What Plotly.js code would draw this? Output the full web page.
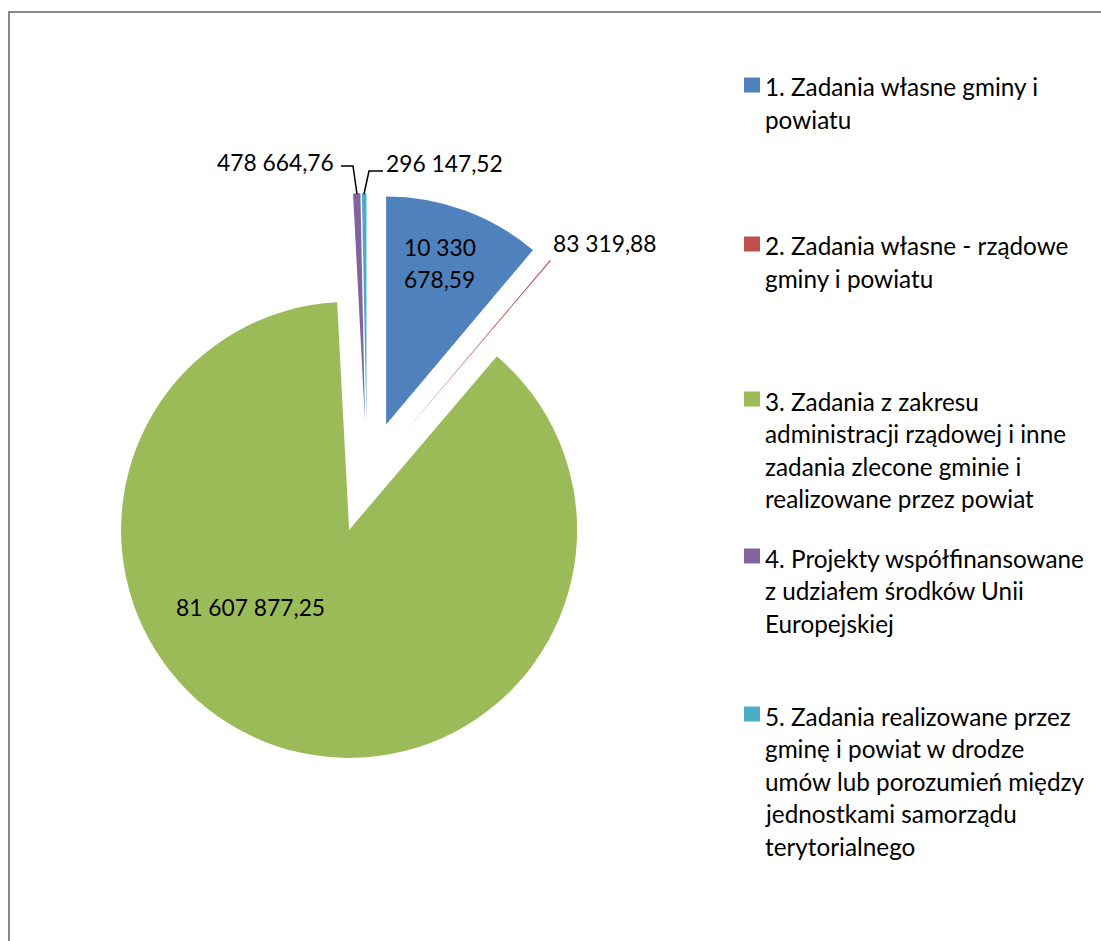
<!DOCTYPE html>
<html><head><meta charset="utf-8">
<script src="https://cdn.plot.ly/plotly-3.0.1.min.js"></script>
<style>html,body{margin:0;padding:0;background:#fff}#chart{width:1101px;height:941px}</style>
</head><body><div id="chart"></div>
<script>
// ---- data ----
const categories = [
  "1. Zadania własne gminy i powiatu",
  "2. Zadania własne - rządowe gminy i powiatu",
  "3. Zadania z zakresu administracji rządowej i inne zadania zlecone gminie i realizowane przez powiat",
  "4. Projekty współfinansowane z udziałem środków Unii Europejskiej",
  "5. Zadania realizowane przez gminę i powiat w drodze umów lub porozumień między jednostkami samorządu terytorialnego"
];
const legendLines = [
  ["1. Zadania własne gminy i", "powiatu"],
  ["2. Zadania własne - rządowe", "gminy i powiatu"],
  ["3. Zadania z zakresu", "administracji rządowej i inne", "zadania zlecone gminie i", "realizowane przez powiat"],
  ["4. Projekty współfinansowane", "z udziałem środków Unii", "Europejskiej"],
  ["5. Zadania realizowane przez", "gminę i powiat w drodze", "umów lub porozumień między", "jednostkami samorządu", "terytorialnego"]
];
const values = [10330678.59, 83319.88, 81607877.25, 478664.76, 296147.52];
const colors = ["#4F81BD", "#C0504D", "#9BBB59", "#8064A2", "#4BACC6"];

// ---- layout helpers ----
const W = 1101, H = 941;
const px = x => x / W, py = y => 1 - y / H;
const FAMILY = "Lato, 'Open Sans', sans-serif";
const VFONT = {family: FAMILY, size: 22.8, color: "#000"};
const LFONT = {family: FAMILY, size: 24.3, color: "#000"};

function fmtPL(v) {
  const s = v.toFixed(2).split(".");
  return s[0].replace(/\B(?=(\d{3})+(?!\d))/g, " ") + "," + s[1];
}

// pie geometry (pixels)
const cx = 367, cy = 477, R = 228, PULL = 0.245;
const side = 2 * R * (1 + PULL);

const trace = {
  type: "pie",
  labels: categories,
  values: values,
  sort: false,
  direction: "clockwise",
  rotation: 0,
  pull: values.map(() => PULL),
  marker: {colors: colors, line: {width: 0}},
  textinfo: "none",
  hoverinfo: "skip",
  showlegend: false,
  domain: {x: [px(cx - side / 2), px(cx + side / 2)], y: [py(cy + side / 2), py(cy - side / 2)]}
};

// value label placement
const labelPos = [
  {x: 402, y: 247, xa: "left", wrap: true},
  {x: 551, y: 243, xa: "left"},
  {x: 174, y: 607, xa: "left"},
  {x: 336, y: 162, xa: "right"},
  {x: 384, y: 163, xa: "left"}
];
const LINE = 32.5;
const annotations = [];
values.forEach((v, i) => {
  const t = fmtPL(v);
  const p = labelPos[i];
  let lines = [t];
  if (p.wrap) { const k = t.lastIndexOf(" "); lines = [t.slice(0, k), t.slice(k + 1)]; }
  lines.forEach((ln, j) => annotations.push({
    xref: "paper", yref: "paper", x: px(p.x), y: py(p.y + j * LINE),
    xanchor: p.xa, yanchor: "middle", text: ln, showarrow: false, font: VFONT
  }));
});

// legend (drawn manually to follow the wrapped layout)
const legendTop = [87, 246, 401, 558, 716];
const legX = 763;
const shapes = [];
legendLines.forEach((lines, i) => {
  lines.forEach((ln, j) => annotations.push({
    xref: "paper", yref: "paper", x: px(legX), y: py(legendTop[i] + j * LINE),
    xanchor: "left", yanchor: "middle", text: ln, showarrow: false, font: LFONT
  }));
  const sy = legendTop[i] - 2;
  shapes.push({type: "rect", xref: "paper", yref: "paper",
    x0: px(744), x1: px(760), y0: py(sy - 7.5), y1: py(sy + 7.5),
    fillcolor: colors[i], line: {width: 0}});
});

// leader lines for small slices
shapes.push({type: "path", xref: "paper", yref: "paper",
  path: `M ${px(341)} ${py(166)} L ${px(353)} ${py(166)} L ${px(357)} ${py(194)}`,
  line: {color: "#000", width: 1.5}});
shapes.push({type: "path", xref: "paper", yref: "paper",
  path: `M ${px(383)} ${py(171)} L ${px(369)} ${py(171)} L ${px(364)} ${py(194)}`,
  line: {color: "#000", width: 1.5}});

// chart-area border
shapes.push({type: "rect", xref: "paper", yref: "paper",
  x0: px(9), x1: px(W + 5), y0: py(H + 5), y1: py(12),
  line: {color: "#878787", width: 2}, fillcolor: "rgba(0,0,0,0)"});

const layout = {
  width: W, height: H,
  margin: {l: 0, r: 0, t: 0, b: 0},
  paper_bgcolor: "#fff",
  showlegend: false,
  annotations: annotations,
  shapes: shapes,
  font: VFONT
};

Plotly.newPlot("chart", [trace], layout, {displayModeBar: false, staticPlot: true});
</script>
</body></html>
